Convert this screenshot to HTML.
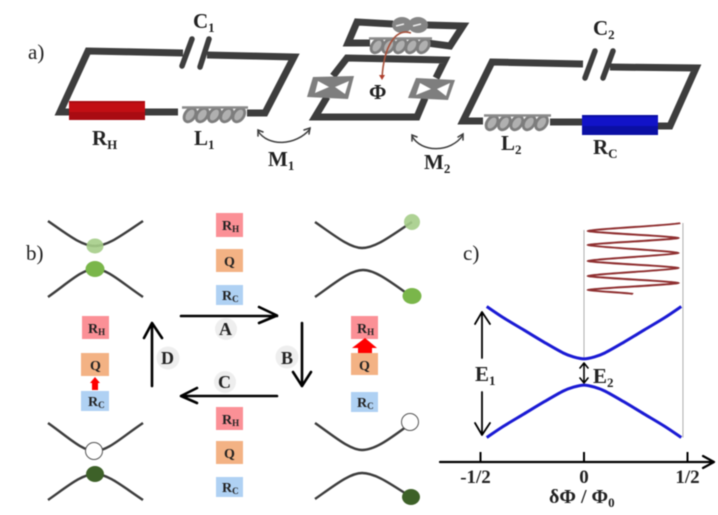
<!DOCTYPE html>
<html lang="en">
<head>
<meta charset="utf-8">
<title>Quantum heat engine circuit diagram</title>
<style>
html,body{margin:0;padding:0;background:#fff;width:718px;height:515px;overflow:hidden}
svg{display:block;filter:blur(.5px)}
text{font-family:"Liberation Serif",serif;fill:#222}
.b{font-weight:bold}
.w{fill:none;stroke:#3d3d3d;stroke-width:7;stroke-linejoin:miter}
.g{fill:none;stroke:#3d3d3d;stroke-width:2.6;stroke-linecap:round}
.k{fill:none;stroke:#000;stroke-width:2.6;stroke-linecap:round;stroke-linejoin:round}
.l{font-size:14px;font-weight:bold;fill:#222}
</style>
</head>
<body>
<svg id="figure" width="718" height="515" viewBox="0 0 718 515" xmlns="http://www.w3.org/2000/svg">
<rect width="718" height="515" fill="#fff"/>

<g id="panel-a">
  <text x="28" y="59" font-size="21">a)</text>

  <g>
    <path class="w" d="M178 112H60L88 51L183 53"/>
    <path class="w" d="M207 55L294 57L265 113H247"/>
    <path d="M192 39L182 66" stroke="#3d3d3d" stroke-width="5.5" stroke-linecap="round"/>
    <path d="M209 39L200 67" stroke="#3d3d3d" stroke-width="5.5" stroke-linecap="round"/>
    <rect x="69" y="101" width="76" height="19" fill="#a90b12"/>
    <rect x="69" y="103" width="76" height="9" fill="#c20e14"/>
  </g>

  <g>
    <path class="w" d="M393 24L357 22L348 43H370M427 25L463 26L450 46L427 43"/>
    <path class="w" d="M333 76L347 58L445 60L436 78M425 98L417 117H315L327 97"/>
    <polygon points="313,77 354,76 348,99 307,97" fill="#7e7e7e"/>
    <polygon points="318,81 329,87 315,93" fill="#fff"/>
    <polygon points="349,81 335,87 345,94" fill="#fff"/>
    <polygon points="416,78 455,80 448,100 408,98" fill="#7e7e7e"/>
    <polygon points="420,83 431,89 416,95" fill="#fff"/>
    <polygon points="450,83 437,89 446,96" fill="#fff"/>
    <ellipse cx="402" cy="25" rx="10" ry="8" fill="#858585"/>
    <ellipse cx="418" cy="25" rx="10" ry="8" fill="#858585"/>
    <path d="M396 26L404 24M413 26L421 24" stroke="#eee" stroke-width="1.6"/>
  </g>

  <g>
    <path class="w" d="M483 121H463L492 62L583 64"/>
    <path class="w" d="M610 67L696 68L670 126H655"/>
    <path class="w" d="M550 122H584"/>
    <path d="M595 51L585 78" stroke="#3d3d3d" stroke-width="5.5" stroke-linecap="round"/>
    <path d="M613 51L603 78" stroke="#3d3d3d" stroke-width="5.5" stroke-linecap="round"/>
    <rect x="582" y="115" width="76" height="20" fill="#0b0fa4"/>
    <rect x="582" y="117" width="76" height="9" fill="#1213c8"/>
  </g>

  <g id="coils"></g>

  <path d="M411 33C396 28 384 45 382 78" fill="none" stroke="#a8523c" stroke-width="1.6"/>
  <polygon points="379,75 385,75 382,80" fill="#b0402e"/>
  <text class="b" x="369" y="99" font-size="21">Φ</text>

  <path class="g" style="stroke-width:1.5" d="M258 131C268 147 296 146 310 129"/>
  <path class="g" style="stroke-width:1.5" d="M258 136L258 130L263 132M304 130L310 128L309 134"/>
  <path class="g" style="stroke-width:1.5" d="M412 136C421 153 451 153 463 135"/>
  <path class="g" style="stroke-width:1.5" d="M412 141L412 135L417 137M458 137L463 134L463 140"/>

  <text class="b" x="193" y="28" font-size="21">C<tspan dy="4" font-size="13">1</tspan></text>
  <text class="b" x="92" y="145" font-size="21">R<tspan dy="4" font-size="13">H</tspan></text>
  <text class="b" x="194" y="145" font-size="21">L<tspan dy="4" font-size="13">1</tspan></text>
  <text class="b" x="268" y="166" font-size="21">M<tspan dy="4" font-size="13">1</tspan></text>
  <text class="b" x="593" y="35" font-size="21">C<tspan dy="4" font-size="13">2</tspan></text>
  <text class="b" x="501" y="150" font-size="21">L<tspan dy="4" font-size="13">2</tspan></text>
  <text class="b" x="593" y="154" font-size="21">R<tspan dy="4" font-size="13">C</tspan></text>
  <text class="b" x="424" y="169" font-size="21">M<tspan dy="4" font-size="13">2</tspan></text>
</g>

<g id="panel-b">
  <text x="26" y="260" font-size="21">b)</text>

  <g fill="none" stroke="#3d3d3d" stroke-width="2.4">
    <path d="M48 221C68 235 82 246 95 246C108 246 122 235 143 221"/>
    <path d="M48 297C68 283 82 269 95 269C108 269 122 283 143 297"/>
    <ellipse cx="95" cy="246" rx="8.5" ry="7.5" fill="#a5cd88" stroke="none" opacity=".9"/>
    <ellipse cx="95" cy="269" rx="9.5" ry="8" fill="#7ab64a" stroke="none"/>
  </g>
  <g fill="none" stroke="#3d3d3d" stroke-width="2.4">
    <path d="M315 222C335 236 350 248 362 248C376 248 392 235 412 222"/>
    <path d="M315 297C335 283 350 270 363 270C376 270 392 283 412 297"/>
    <circle cx="412" cy="222" r="8" fill="#a5cd88" stroke="none" opacity=".9"/>
    <ellipse cx="412" cy="296" rx="9.5" ry="8" fill="#7ab64a" stroke="none"/>
  </g>
  <g fill="none" stroke="#3d3d3d" stroke-width="2.4">
    <path d="M48 423C68 437 82 451 95 451C108 451 122 437 143 423"/>
    <path d="M48 500C68 486 82 474 95 474C108 474 122 486 143 500"/>
    <circle cx="94" cy="451" r="8.5" fill="#fff" stroke="#555" stroke-width="1"/>
    <ellipse cx="95" cy="474" rx="9" ry="8" fill="#3d6128" stroke="none"/>
  </g>
  <g fill="none" stroke="#3d3d3d" stroke-width="2.4">
    <path d="M315 423C335 437 350 450 362 450C376 450 392 437 410 424"/>
    <path d="M315 499C335 485 350 473 362 473C376 473 392 485 411 497"/>
    <circle cx="410" cy="422" r="8.5" fill="#fff" stroke="#555" stroke-width="1"/>
    <ellipse cx="411" cy="497" rx="9" ry="8" fill="#3d6128" stroke="none"/>
  </g>

  <g>
    <rect x="216" y="213" width="27" height="24" fill="#fb9096"/>
    <text class="l" x="222" y="230">R<tspan dy="2" font-size="9">H</tspan></text>
    <rect x="216" y="249" width="27" height="23" fill="#f3b284"/>
    <text class="l" x="224" y="266">Q</text>
    <rect x="216" y="285" width="27" height="20" fill="#afd1f3"/>
    <text class="l" x="222" y="300">R<tspan dy="2" font-size="9">C</tspan></text>
  </g>
  <g>
    <rect x="216" y="407" width="27" height="23" fill="#fb9096"/>
    <text class="l" x="222" y="424">R<tspan dy="2" font-size="9">H</tspan></text>
    <rect x="216" y="441" width="27" height="23" fill="#f3b284"/>
    <text class="l" x="224" y="458">Q</text>
    <rect x="216" y="477" width="27" height="20" fill="#afd1f3"/>
    <text class="l" x="222" y="492">R<tspan dy="2" font-size="9">C</tspan></text>
  </g>
  <g>
    <rect x="82" y="316" width="27" height="23" fill="#fb9096"/>
    <text class="l" x="88" y="333">R<tspan dy="2" font-size="9">H</tspan></text>
    <rect x="81" y="353" width="28" height="23" fill="#f3b284"/>
    <text class="l" x="90" y="370">Q</text>
    <rect x="81" y="391" width="28" height="20" fill="#afd1f3"/>
    <text class="l" x="88" y="406">R<tspan dy="2" font-size="9">C</tspan></text>
    <polygon points="95,377 100,383 98,383 98,390 92,390 92,383 90,383" fill="#f00"/>
  </g>
  <g>
    <rect x="351" y="316" width="27" height="23" fill="#fb9096"/>
    <text class="l" x="357" y="333">R<tspan dy="2" font-size="9">H</tspan></text>
    <rect x="351" y="353" width="27" height="22" fill="#f3b284"/>
    <text class="l" x="359" y="370">Q</text>
    <rect x="351" y="392" width="27" height="20" fill="#afd1f3"/>
    <text class="l" x="357" y="407">R<tspan dy="2" font-size="9">C</tspan></text>
    <polygon points="365,338 377,348 372,348 372,353 358,353 358,348 352,348" fill="#f00"/>
  </g>

  <path class="k" d="M181 316H277M259 307L277 315.5L259 323"/>
  <path class="k" d="M302 323V386M293 372L302 386L311 372"/>
  <path class="k" d="M277 396H181M197 388L181 396L197 403"/>
  <path class="k" d="M152 386V323M144 338L152 323L162 338"/>

  <circle cx="226" cy="329" r="11" fill="#eee"/>
  <text class="b" x="219" y="335" font-size="18">A</text>
  <circle cx="287" cy="357" r="11.5" fill="#eee"/>
  <text class="b" x="281" y="364" font-size="18">B</text>
  <circle cx="225" cy="382" r="11" fill="#eee"/>
  <text class="b" x="218" y="388" font-size="18">C</text>
  <circle cx="168" cy="358" r="11.5" fill="#eee"/>
  <text class="b" x="161" y="364" font-size="18">D</text>
</g>

<g id="panel-c">
  <text x="463" y="260" font-size="21">c)</text>
  <g id="chart-marks"></g>

  <path class="k" style="stroke-width:1.8" d="M482 358V312M475 324L482 312L490 324"/>
  <path class="k" style="stroke-width:1.8" d="M482 392V435M475 423L482 435L490 423"/>
  <path class="k" style="stroke-width:1.6" d="M584 363V383M580 368L584 363L588 368M580 378L584 383L588 378"/>
  <text class="b" x="475" y="381" font-size="21">E<tspan dy="4" font-size="13">1</tspan></text>
  <text class="b" x="593" y="383" font-size="21">E<tspan dy="4" font-size="13">2</tspan></text>

  <path class="k" style="stroke-width:2.2" d="M440 462H713M703 456L714 462L703 468"/>
  <text class="b" x="549" y="503" font-size="20">δΦ / Φ<tspan dy="4" font-size="13">0</tspan></text>
</g>

<script>
var fluxValues = [-0.47, -0.39, -0.29, -0.19, -0.1, -0.05, 0, 0.05, 0.1, 0.19, 0.29, 0.39, 0.47];
var upperBand = [1.0, 0.83, 0.64, 0.45, 0.29, 0.23, 0.2, 0.23, 0.29, 0.45, 0.64, 0.83, 1.0];
var lowerBand = [-1.0, -0.83, -0.64, -0.45, -0.29, -0.23, -0.2, -0.23, -0.29, -0.45, -0.64, -0.83, -1.0];
var driveFlux = [0.465, 0.02, 0.455, 0.02, 0.455, 0.02, 0.455, 0.02, 0.455, 0.02, 0.237];
var driveTime = [0, 8, 15, 22, 30, 38, 45, 53, 60, 67, 71];
var tickValues = [-0.5, 0, 0.5];
var tickLabels = ['-1/2', '0', '1/2'];
var guideFlux = [0, 0.478];

var SVGNS = 'http://www.w3.org/2000/svg';
var marks = document.getElementById('chart-marks');
function xScale(f) { return 584 + 207 * f; }
function yEnergy(e) { return 372 - 65.5 * e; }
function yTime(t) { return 223 + t; }

function smoothPath(pts) {
  var d = 'M' + pts[0][0] + ' ' + pts[0][1];
  for (var i = 0; i < pts.length - 1; i++) {
    var p0 = pts[Math.max(i - 1, 0)], p1 = pts[i], p2 = pts[i + 1], p3 = pts[Math.min(i + 2, pts.length - 1)];
    d += 'C' + (p1[0] + (p2[0] - p0[0]) / 6) + ' ' + (p1[1] + (p2[1] - p0[1]) / 6) + ' ' +
         (p2[0] - (p3[0] - p1[0]) / 6) + ' ' + (p2[1] - (p3[1] - p1[1]) / 6) + ' ' + p2[0] + ' ' + p2[1];
  }
  return d;
}

guideFlux.forEach(function (f, i) {
  var el = document.createElementNS(SVGNS, 'line');
  
  
  el.setAttribute('x1', xScale(f));
  el.setAttribute('x2', xScale(f));
  el.setAttribute('y1', i === 0 ? 230 : 223);
  el.setAttribute('y2', i === 0 ? yEnergy(upperBand[6]) : yEnergy(-1));
  el.setAttribute('stroke', '#9a9a9a');
  el.setAttribute('stroke-width', '0.8');
  marks.appendChild(el);
});

var upperLine = document.createElementNS(SVGNS, 'path');


upperLine.setAttribute('d', smoothPath(fluxValues.map(function (f, i) { return [xScale(f), yEnergy(upperBand[i])]; })));
upperLine.setAttribute('fill', 'none');
upperLine.setAttribute('stroke', '#1a1ad4');
upperLine.setAttribute('stroke-width', '3');
marks.appendChild(upperLine);

var lowerLine = document.createElementNS(SVGNS, 'path');


lowerLine.setAttribute('d', smoothPath(fluxValues.map(function (f, i) { return [xScale(f), yEnergy(lowerBand[i])]; })));
lowerLine.setAttribute('fill', 'none');
lowerLine.setAttribute('stroke', '#1a1ad4');
lowerLine.setAttribute('stroke-width', '3');
marks.appendChild(lowerLine);

var dPath = '';
driveFlux.forEach(function (f, i) {
  var x = xScale(f), y = yTime(driveTime[i]);
  if (i === 0) { dPath = 'M' + x + ' ' + y; return; }
  var px = xScale(driveFlux[i - 1]), py = yTime(driveTime[i - 1]), dy = y - py;
  dPath += 'C' + (px + (x - px) * 0.03) + ' ' + (py + dy * 0.25) + ' ' + (x - (x - px) * 0.03) + ' ' + (y - dy * 0.25) + ' ' + x + ' ' + y;
});
var driveLine = document.createElementNS(SVGNS, 'path');


driveLine.setAttribute('d', dPath);
driveLine.setAttribute('fill', 'none');
driveLine.setAttribute('stroke', '#8f2f30');
driveLine.setAttribute('stroke-width', '2');
marks.appendChild(driveLine);

tickValues.forEach(function (v, i) {
  var t = document.createElementNS(SVGNS, 'line');
  
  
  t.setAttribute('x1', xScale(v));
  t.setAttribute('x2', xScale(v));
  t.setAttribute('y1', 452);
  t.setAttribute('y2', 463);
  t.setAttribute('stroke', '#000');
  t.setAttribute('stroke-width', '2');
  marks.appendChild(t);
  var l = document.createElementNS(SVGNS, 'text');
  
  
  l.setAttribute('x', i === 0 ? xScale(v) - 5 : xScale(v));
  l.setAttribute('y', 483);
  l.setAttribute('text-anchor', 'middle');
  l.setAttribute('font-size', '19');
  l.setAttribute('font-weight', 'bold');
  l.textContent = tickLabels[i];
  marks.appendChild(l);
});

var coils = document.getElementById('coils');
[[187, 114, 12.2, 5, 'l1'], [489, 122, 12.4, 5, 'l2'], [374, 45, 11.6, 5, 'coupler']].forEach(function (c) {
  for (var i = 0; i < c[3]; i++) {
    var e = document.createElementNS(SVGNS, 'ellipse');
    
    
    var cx = c[0] + i * c[2] + 3;
    e.setAttribute('cx', cx);
    e.setAttribute('cy', c[1] + 1);
    e.setAttribute('rx', 5);
    e.setAttribute('ry', 7.5);
    e.setAttribute('transform', 'rotate(35 ' + cx + ' ' + (c[1] + 1) + ')');
    e.setAttribute('fill', '#b0b0b0');
    e.setAttribute('stroke', '#7d7d7d');
    e.setAttribute('stroke-width', '2.8');
    coils.appendChild(e);
  }
  var bar = document.createElementNS(SVGNS, 'line');
  
  
  bar.setAttribute('x1', c[0] - 5);
  bar.setAttribute('x2', c[0] + c[2] * c[3]);
  bar.setAttribute('y1', c[1] - 6.5);
  bar.setAttribute('y2', c[1] - 6.5);
  bar.setAttribute('stroke', '#8a8a8a');
  bar.setAttribute('stroke-width', '2.6');
  coils.appendChild(bar);
});
</script>
</svg>
</body>
</html>
